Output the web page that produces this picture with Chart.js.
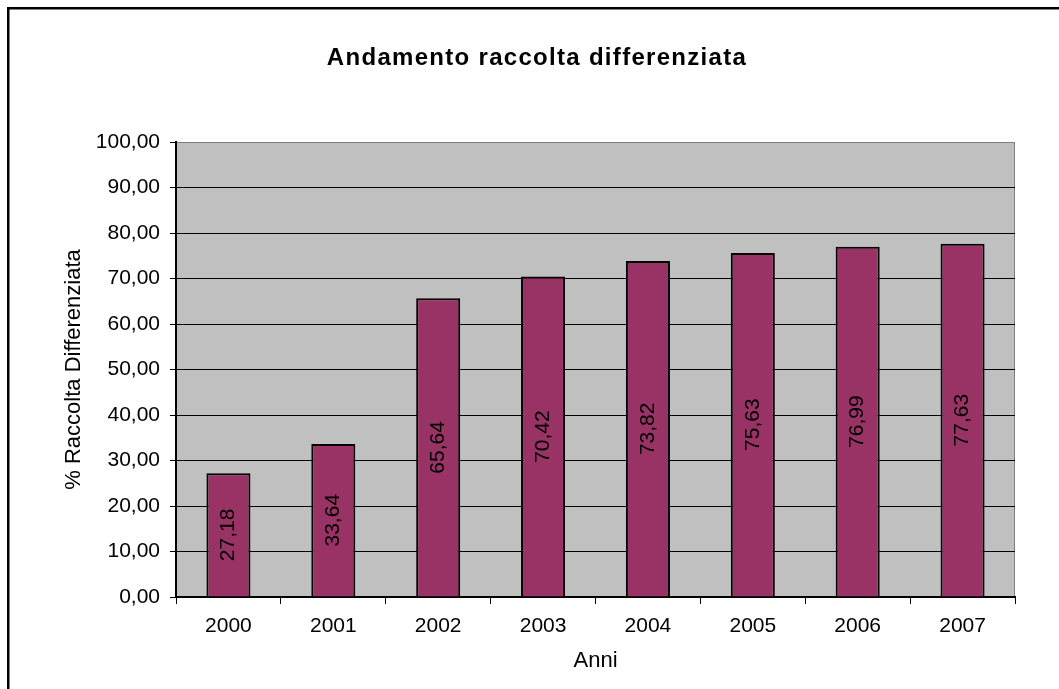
<!DOCTYPE html>
<html>
<head>
<meta charset="utf-8">
<script src="https://cdn.jsdelivr.net/npm/chart.js@4.4.1/dist/chart.umd.min.js"></script>
<style>
  html, body { margin: 0; padding: 0; background: #fff; overflow: hidden; }
  #wrap { width: 1059px; height: 689px; }
</style>
</head>
<body>
<div id="wrap"><canvas id="raccoltaChart" width="1059" height="689"></canvas></div>
<script>
// dati
const anni = ['2000', '2001', '2002', '2003', '2004', '2005', '2006', '2007'];
const percentuali = [27.18, 33.64, 65.64, 70.42, 73.82, 75.63, 76.99, 77.63];
const titolo = 'Andamento raccolta differenziata';

function virgola(v) {
    return Number(v).toFixed(2).replace('.', ',');
}

// sfondo grigio, bordo esterno e titolo
const sfondoPlugin = {
    id: 'sfondo',
    beforeDraw(chart) {
        const ctx = chart.ctx;
        const a = chart.chartArea;
        ctx.save();
        ctx.fillStyle = '#ffffff';
        ctx.fillRect(0, 0, chart.width, chart.height);
        ctx.strokeStyle = '#000000';
        ctx.lineWidth = 2.5;
        ctx.beginPath();
        ctx.moveTo(8.25, chart.height + 5);
        ctx.lineTo(8.25, 8.25);
        ctx.lineTo(chart.width + 5, 8.25);
        ctx.stroke();
        ctx.fillStyle = '#c0c0c0';
        ctx.fillRect(a.left, a.top, a.right - a.left, a.bottom - a.top);
        ctx.strokeStyle = '#808080';
        ctx.lineWidth = 1;
        ctx.strokeRect(a.left + 0.5, a.top + 0.5, a.right - a.left - 1, a.bottom - a.top);
        // titolo
        ctx.fillStyle = '#000000';
        ctx.font = 'bold 24px "Liberation Sans", Arial, sans-serif';
        ctx.letterSpacing = '1.3px';
        ctx.textAlign = 'center';
        ctx.textBaseline = 'middle';
        ctx.fillText(titolo, 537, 58);
        ctx.restore();
    }
};

// etichette verticali dentro le barre
const etichettePlugin = {
    id: 'etichette',
    afterDatasetsDraw(chart) {
        const ctx = chart.ctx;
        const meta = chart.getDatasetMeta(0);
        ctx.save();
        ctx.fillStyle = '#000000';
        ctx.font = '21px "Liberation Sans", Arial, sans-serif';
        ctx.textAlign = 'center';
        ctx.textBaseline = 'middle';
        meta.data.forEach(function(bar, i) {
            const cy = (bar.y + bar.base) / 2;
            ctx.save();
            ctx.translate(bar.x, cy);
            ctx.rotate(-Math.PI / 2);
            ctx.fillText(virgola(percentuali[i]), 0, 0);
            ctx.restore();
        });
        ctx.restore();
    }
};

const ctx = document.getElementById('raccoltaChart').getContext('2d');
const chart = new Chart(ctx, {
    type: 'bar',
    data: {
        labels: anni,
        datasets: [{
            label: '% Raccolta Differenziata',
            data: percentuali,
            backgroundColor: '#993366',
            borderColor: '#000000',
            borderWidth: 2,
            barPercentage: 0.42,
            categoryPercentage: 1
        }]
    },
    options: {
        responsive: false,
        animation: false,
        devicePixelRatio: 1,
        layout: {
            padding: { left: 0, right: 44, top: 142, bottom: 0 }
        },
        plugins: {
            legend: { display: false },
            title: { display: false },
            tooltip: { enabled: false }
        },
        scales: {
            x: {
                afterFit(scale) { scale.height = 92; },
                grid: {
                    offset: true,
                    drawOnChartArea: false,
                    drawTicks: true,
                    tickLength: 7,
                    color: '#000000'
                },
                border: { color: '#000000', width: 2 },
                ticks: {
                    color: '#000000',
                    padding: 10,
                    font: { family: '"Liberation Sans", Arial, sans-serif', size: 21 }
                },
                title: {
                    display: true,
                    text: 'Anni',
                    color: '#000000',
                    padding: { top: 0, bottom: 15 },
                    font: { family: '"Liberation Sans", Arial, sans-serif', size: 22 }
                }
            },
            y: {
                min: 0,
                max: 100,
                afterFit(scale) { scale.width = 176; },
                grid: {
                    color: function(c) {
                        return c.tick && c.tick.value === 100 ? '#808080' : '#000000';
                    },
                    tickColor: '#000000',
                    tickLength: 6,
                    lineWidth: 1
                },
                border: { color: '#000000', width: 2 },
                ticks: {
                    stepSize: 10,
                    color: '#000000',
                    padding: 10,
                    font: { family: '"Liberation Sans", Arial, sans-serif', size: 21 },
                    callback: function(v) { return virgola(v); }
                },
                title: {
                    display: true,
                    text: '% Raccolta Differenziata',
                    color: '#000000',
                    padding: { top: 61, bottom: 0 },
                    font: { family: '"Liberation Sans", Arial, sans-serif', size: 22 }
                }
            }
        }
    },
    plugins: [sfondoPlugin, etichettePlugin]
});
</script>
</body>
</html>
